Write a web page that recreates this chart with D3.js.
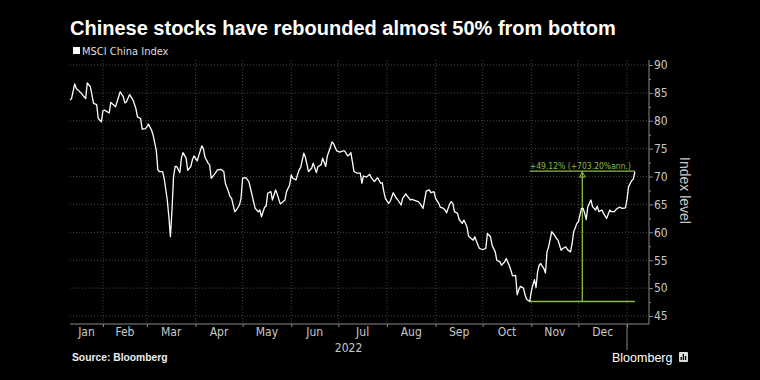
<!DOCTYPE html>
<html><head><meta charset="utf-8">
<script src="https://cdn.jsdelivr.net/npm/d3@7"></script>
<style>
html,body{margin:0;padding:0;background:#000;}
svg{display:block;}
</style></head>
<body>
<script>
const title = "Chinese stocks have rebounded almost 50% from bottom";
const seriesName = "MSCI China Index";
const dates = ["2022-01-11","2022-01-12","2022-01-14","2022-01-15","2022-01-18","2022-01-20","2022-01-21","2022-01-22","2022-01-24","2022-01-26","2022-01-28","2022-01-29","2022-01-31",
"2022-02-01","2022-02-02","2022-02-05","2022-02-06","2022-02-08","2022-02-09","2022-02-11","2022-02-12","2022-02-14","2022-02-15","2022-02-16","2022-02-18","2022-02-20","2022-02-22","2022-02-23","2022-02-25","2022-02-26","2022-02-28",
"2022-03-01","2022-03-02","2022-03-04","2022-03-05","2022-03-07","2022-03-08","2022-03-09","2022-03-11","2022-03-12","2022-03-14","2022-03-15","2022-03-16","2022-03-17","2022-03-18","2022-03-19","2022-03-20","2022-03-22","2022-03-23","2022-03-24","2022-03-26","2022-03-27","2022-03-29","2022-03-30","2022-03-31",
"2022-04-02","2022-04-03","2022-04-05","2022-04-06","2022-04-07","2022-04-09","2022-04-10","2022-04-11","2022-04-13","2022-04-15","2022-04-17","2022-04-19","2022-04-20","2022-04-22","2022-04-23","2022-04-24","2022-04-26","2022-04-27","2022-04-29","2022-04-30",
"2022-05-01","2022-05-03","2022-05-05","2022-05-06","2022-05-08","2022-05-09","2022-05-11","2022-05-12","2022-05-13","2022-05-15","2022-05-16","2022-05-17","2022-05-19","2022-05-20","2022-05-22","2022-05-23","2022-05-25","2022-05-26","2022-05-28","2022-05-29","2022-05-31",
"2022-06-01","2022-06-02","2022-06-04","2022-06-06","2022-06-07","2022-06-09","2022-06-10","2022-06-12","2022-06-14","2022-06-15","2022-06-17","2022-06-18","2022-06-20","2022-06-21","2022-06-23","2022-06-24","2022-06-26","2022-06-27","2022-06-28","2022-06-30",
"2022-07-02","2022-07-04","2022-07-05","2022-07-07","2022-07-08","2022-07-09","2022-07-11","2022-07-13","2022-07-15","2022-07-16","2022-07-17","2022-07-19","2022-07-21","2022-07-22","2022-07-24","2022-07-26","2022-07-28","2022-07-29","2022-07-30","2022-07-31",
"2022-08-02","2022-08-03","2022-08-05","2022-08-07","2022-08-08","2022-08-10","2022-08-11","2022-08-13","2022-08-14","2022-08-16","2022-08-17","2022-08-19","2022-08-21","2022-08-22","2022-08-24","2022-08-25","2022-08-26","2022-08-28","2022-08-29","2022-08-31",
"2022-09-01","2022-09-03","2022-09-04","2022-09-06","2022-09-07","2022-09-08","2022-09-10","2022-09-11","2022-09-12","2022-09-13","2022-09-15","2022-09-16","2022-09-18","2022-09-19","2022-09-21","2022-09-22","2022-09-25","2022-09-26","2022-09-28","2022-09-29",
"2022-10-01","2022-10-03","2022-10-04","2022-10-06","2022-10-07","2022-10-09","2022-10-10","2022-10-12","2022-10-13","2022-10-15","2022-10-16","2022-10-18","2022-10-19","2022-10-20","2022-10-22","2022-10-23","2022-10-24","2022-10-25","2022-10-27","2022-10-28","2022-10-29","2022-10-31",
"2022-11-01","2022-11-02","2022-11-03","2022-11-04","2022-11-05","2022-11-06","2022-11-07","2022-11-09","2022-11-10","2022-11-11","2022-11-12","2022-11-14","2022-11-15","2022-11-17","2022-11-18","2022-11-20","2022-11-21","2022-11-23","2022-11-24","2022-11-26","2022-11-27","2022-11-28","2022-11-29","2022-11-30",
"2022-12-01","2022-12-03","2022-12-04","2022-12-05","2022-12-06","2022-12-07","2022-12-09","2022-12-10","2022-12-12","2022-12-13","2022-12-14","2022-12-16","2022-12-17","2022-12-19","2022-12-21","2022-12-22","2022-12-24","2022-12-25","2022-12-27","2022-12-29","2022-12-31",
"2023-01-01","2023-01-02","2023-01-04","2023-01-05","2023-01-06"];
const values = [83.7,84.0,86.6,85.8,85.0,84.3,84.0,86.8,86.1,83.1,82.9,80.4,79.8,
81.8,81.9,81.4,83.3,82.8,82.5,84.3,85.2,84.3,83.2,83.4,84.7,83.8,82.2,80.7,80.4,78.5,78.6,
78.9,79.4,78.3,77.4,74.7,71.2,70.9,70.9,69.7,65.8,62.8,59.2,64.0,70.0,71.8,71.8,70.7,73.3,74.3,73.3,71.1,71.8,73.0,73.7,
72.8,73.7,75.5,75.0,73.5,72.4,72.1,69.7,70.4,71.2,71.3,70.9,68.8,67.3,66.4,66.1,63.7,64.0,64.9,66.1,
69.7,69.8,69.1,67.9,65.5,64.3,63.7,64.0,62.8,64.5,64.7,67.0,67.3,65.8,67.6,66.9,65.1,65.3,65.8,67.3,68.5,
70.3,69.7,69.4,71.2,71.6,74.2,73.5,70.9,71.5,72.4,70.7,71.8,72.1,73.3,71.8,73.7,75.3,76.2,75.9,74.6,
74.4,74.6,74.6,73.7,73.9,74.3,70.9,70.6,70.6,68.8,70.1,69.9,70.4,69.8,69.1,69.8,68.8,68.9,67.3,66.1,
65.2,65.5,67.1,66.1,65.8,64.9,66.1,66.9,66.5,65.8,65.9,65.7,65.5,65.2,64.3,65.8,67.4,67.6,67.1,67.3,
66.1,65.2,64.5,64.3,64.0,63.5,65.1,65.5,65.2,63.7,63.4,62.3,61.6,62.2,61.0,59.3,58.6,59.2,57.7,57.1,
56.9,57.1,59.8,59.2,57.7,56.5,55.0,54.7,54.1,54.7,55.3,54.0,53.2,52.2,52.3,48.8,49.7,50.3,50.0,48.8,48.0,47.6,
49.4,50.6,51.5,50.1,52.9,54.1,54.4,53.5,52.7,56.5,57.4,60.1,59.8,58.9,58.6,56.8,57.1,57.4,56.9,56.5,58.0,60.1,60.8,61.6,
61.9,64.3,64.3,63.4,62.3,64.6,65.8,64.6,64.0,64.7,63.7,64.0,63.4,62.5,64.0,63.7,63.7,64.1,64.5,64.3,64.4,
65.9,68.2,69.3,69.5,70.9];
const monthLabels = ["Jan","Feb","Mar","Apr","May","Jun","Jul","Aug","Sep","Oct","Nov","Dec"];
const yearLabel = "2022";
const yTicks = [45,50,55,60,65,70,75,80,85,90];
const yMinorTicks = [47.5,52.5,57.5,62.5,67.5,72.5,77.5,82.5,87.5];
const yTitle = "Index level";
const annoStart = "2022-10-31";
const annoEnd = "2023-01-06";
const annoLow = 47.6;
const annoPct = 49.12;
const annoText = "+49.12% (+703.20%ann.)";
const sourceText = "Source: Bloomberg";
const brand = "Bloomberg";

const W = 760, H = 380;
const parse = d3.utcParse("%Y-%m-%d");
const data = dates.map((d,i)=>({date:parse(d), value:values[i]}));

const svg = d3.select("body").append("svg").attr("width",W).attr("height",H).style("background","#000");

const x = d3.scaleUtc().domain([parse("2022-01-11"), parse("2023-01-15")]).range([70,649]);
const y = d3.scaleLinear().domain([45,90]).range([316,65]);
const axisY = 324, axisX = 649;
const narrow = "'Liberation Sans Narrow','DejaVu Sans Condensed',sans-serif";
const grey = "#c8c8c8";

// title
svg.append("text").attr("x",70).attr("y",35).attr("fill","#fff")
  .attr("font-family","'Liberation Sans',Arial,sans-serif").attr("font-weight","bold").attr("font-size",20)
  .text(title);
// legend
svg.append("rect").attr("x",73).attr("y",47).attr("width",7).attr("height",7).attr("fill","#fff");
svg.append("text").attr("x",82).attr("y",55).attr("fill","#ddd").attr("font-family",narrow).attr("font-size",11).text(seriesName);

// grid
const monthStarts = d3.utcMonth.range(parse("2022-02-01"), parse("2023-01-02"));
const grid = svg.append("g").attr("stroke","#555").attr("stroke-width",0.8).attr("stroke-dasharray","1,2");
grid.selectAll("line.h").data(yTicks).join("line").attr("class","h")
  .attr("x1",70).attr("x2",axisX).attr("y1",d=>y(d)).attr("y2",d=>y(d));
grid.selectAll("line.v").data(monthStarts).join("line").attr("class","v")
  .attr("x1",d=>x(d)).attr("x2",d=>x(d)).attr("y1",60).attr("y2",axisY);

// x axis
const xAxis = d3.axisBottom(x).tickValues(monthStarts).tickSize(3).tickFormat("");
const gx = svg.append("g").attr("transform",`translate(0,${axisY})`).call(xAxis);
gx.select(".domain").attr("stroke","#888").attr("d",`M70,0H${axisX}`);
gx.selectAll(".tick line").attr("stroke","#888");
// long year-separator tick
svg.append("line").attr("x1",x(parse("2023-01-01"))).attr("x2",x(parse("2023-01-01")))
  .attr("y1",axisY).attr("y2",350).attr("stroke","#888");
const allStarts = d3.utcMonth.range(parse("2022-01-01"), parse("2023-01-02"));
monthLabels.forEach((m,i)=>{
  const a = Math.max(x(allStarts[i]),70), b = x(allStarts[i+1]);
  svg.append("text").attr("x",(a+b)/2).attr("y",336).attr("text-anchor","middle")
    .attr("fill",grey).attr("font-family",narrow).attr("font-size",12).text(m);
});
svg.append("text").attr("x",(70+x(parse("2023-01-01")))/2).attr("y",352).attr("text-anchor","middle")
  .attr("fill",grey).attr("font-family",narrow).attr("font-size",12).text(yearLabel);

// y axis
const yAxis = d3.axisRight(y).tickValues(yTicks).tickSize(4).tickPadding(1);
const gy = svg.append("g").attr("transform",`translate(${axisX},0)`).call(yAxis);
gy.select(".domain").attr("stroke","#888").attr("d",`M0,60V${axisY}`);
gy.selectAll(".tick line").attr("stroke","#888");
gy.selectAll(".tick text").attr("fill",grey).attr("font-family",narrow).attr("font-size",12);
const yMinor = d3.axisRight(y).tickValues(yMinorTicks).tickSize(2).tickFormat("");
const gym = svg.append("g").attr("transform",`translate(${axisX},0)`).call(yMinor);
gym.select(".domain").remove();
gym.selectAll(".tick line").attr("stroke","#888");
svg.append("text").attr("transform",`translate(680,${(y(90)+y(45))/2}) rotate(90)`).attr("text-anchor","middle")
  .attr("fill",grey).attr("font-family","'Liberation Sans',sans-serif").attr("font-size",14).text(yTitle);

// annotation
const green = "#8bbd4a";
const aS = parse(annoStart), aE = parse(annoEnd);
const aHigh = annoLow*(1+annoPct/100);
const xm = (x(aS)+x(aE))/2;
const ag = svg.append("g").attr("stroke",green).attr("stroke-width",1.3).attr("fill","none");
ag.append("line").attr("x1",x(aS)).attr("x2",x(aE)).attr("y1",y(annoLow)).attr("y2",y(annoLow));
ag.append("line").attr("x1",x(aS)).attr("x2",x(aE)).attr("y1",y(aHigh)).attr("y2",y(aHigh));
ag.append("line").attr("x1",xm).attr("x2",xm).attr("y1",y(annoLow)).attr("y2",y(aHigh));
ag.append("path").attr("d",`M${xm},${y(aHigh)+1}L${xm-3},${y(aHigh)+6}L${xm+3},${y(aHigh)+6}Z`).attr("stroke-width",1);
svg.append("text").attr("x",x(aS)).attr("y",y(aHigh)-2.5).attr("fill",green)
  .attr("font-family",narrow).attr("font-size",8.5).text(annoText);

// line
svg.append("path").datum(data).attr("fill","none").attr("stroke","#fff").attr("stroke-width",1.3)
  .attr("stroke-linejoin","round")
  .attr("d",d3.line().x(d=>x(d.date)).y(d=>y(d.value)));

// footer
svg.append("text").attr("x",72).attr("y",361).attr("fill","#eee").attr("font-family","'Liberation Sans',Arial,sans-serif")
  .attr("font-weight","bold").attr("font-size",10.3).text(sourceText);
svg.append("text").attr("x",612).attr("y",362).attr("fill","#fff").attr("font-family","'Liberation Sans',Arial,sans-serif")
  .attr("font-size",12.5).text(brand);
const ic = svg.append("g").attr("transform","translate(679,352)");
ic.append("rect").attr("width",9).attr("height",10).attr("fill","#ddd").attr("rx",1);
ic.selectAll("rect.b").data([3,6,4]).join("rect").attr("class","b")
  .attr("x",(d,i)=>1.5+i*2.2).attr("y",d=>8-d).attr("width",1.3).attr("height",d=>d).attr("fill","#000");
</script>
</body></html>
